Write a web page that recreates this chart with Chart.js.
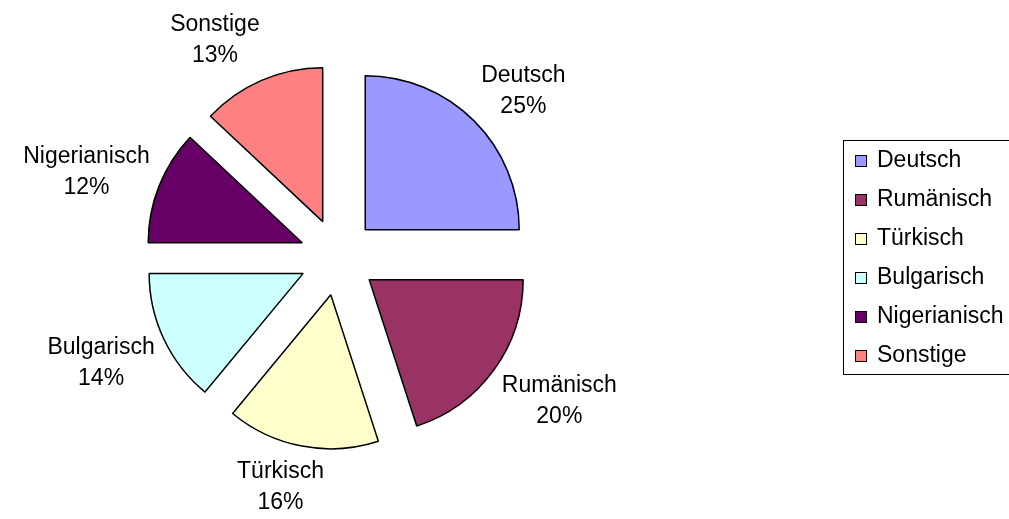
<!DOCTYPE html>
<html>
<head>
<meta charset="utf-8">
<script src="https://cdn.jsdelivr.net/npm/chart.js@4"></script>
<style>
  html, body { margin: 0; padding: 0; background: #fff; }
  #wrap { width: 1009px; height: 519px; }
</style>
</head>
<body>
<div id="wrap"><canvas id="pieChart" width="1009" height="519"></canvas></div>
<script>
const labels = ['Deutsch', 'Rumänisch', 'Türkisch', 'Bulgarisch', 'Nigerianisch', 'Sonstige'];
const shares = [25, 20, 16, 14, 12, 13];
const colors = ['#9999FF', '#993366', '#FFFFCC', '#CCFFFF', '#660066', '#FF8080'];

const FONT = '23px "Liberation Sans", Arial, sans-serif';
const EXPLODE = 38.5;

// move every slice out along its bisector by the same distance
const explodePlugin = {
    id: 'explode',
    beforeDatasetsDraw(chart) {
        const area = chart.chartArea;
        const cx = (area.left + area.right) / 2;
        const cy = (area.top + area.bottom) / 2;
        chart.getDatasetMeta(0).data.forEach(arc => {
            const mid = (arc.startAngle + arc.endAngle) / 2;
            arc.x = cx + Math.cos(mid) * EXPLODE;
            arc.y = cy + Math.sin(mid) * EXPLODE;
        });
    }
};

const clamp = v => Math.max(0, Math.min(1, v));

// name + percent outside each slice, anchored just past the arc on the bisector
const outerLabels = {
    id: 'outerLabels',
    afterDatasetsDraw(chart) {
        const ctx = chart.ctx;
        const total = shares.reduce((a, b) => a + b, 0);
        ctx.save();
        ctx.font = FONT;
        ctx.fillStyle = '#000';
        ctx.textAlign = 'center';
        ctx.textBaseline = 'middle';
        chart.getDatasetMeta(0).data.forEach((arc, i) => {
            const mid = (arc.startAngle + arc.endAngle) / 2;
            const dx = Math.cos(mid), dy = Math.sin(mid);
            const pct = Math.round(shares[i] / total * 100) + '%';
            const w = Math.max(ctx.measureText(labels[i]).width, ctx.measureText(pct).width);
            const h = 62;
            const px = arc.x + dx * (arc.outerRadius + 10);
            const py = arc.y + dy * (arc.outerRadius + 10);
            const left = px - clamp(0.5 - 1.2 * dx) * w;
            const top = py - clamp(0.45 - 0.6 * dy) * h;
            const x = left + w / 2;
            const y = top + h / 2;
            ctx.fillText(labels[i], x, y - 15);
            ctx.fillText(pct, x, y + 16);
        });
        ctx.restore();
    }
};

// boxed legend on the right
const boxLegend = {
    id: 'boxLegend',
    afterDraw(chart) {
        const ctx = chart.ctx;
        ctx.save();
        ctx.strokeStyle = '#000';
        ctx.lineWidth = 1;
        ctx.strokeRect(843.5, 140.5, 200, 234);
        ctx.font = FONT;
        ctx.textBaseline = 'middle';
        labels.forEach((name, i) => {
            const y = 161 + i * 39;
            ctx.fillStyle = colors[i];
            ctx.fillRect(855, y - 6, 12, 12);
            ctx.strokeRect(855.5, y - 5.5, 11, 11);
            ctx.fillStyle = '#000';
            ctx.fillText(name, 877, y);
        });
        ctx.restore();
    }
};

new Chart(document.getElementById('pieChart'), {
    type: 'pie',
    data: {
        labels: labels,
        datasets: [{
            data: shares,
            backgroundColor: colors,
            borderColor: '#000',
            borderWidth: 1.5
        }]
    },
    options: {
        responsive: false,
        animation: false,
        radius: 154,
        layout: { padding: { left: 0, top: 0, right: 333, bottom: 5 } },
        plugins: {
            legend: { display: false },
            tooltip: { enabled: false }
        }
    },
    plugins: [explodePlugin, outerLabels, boxLegend]
});
</script>
</body>
</html>
